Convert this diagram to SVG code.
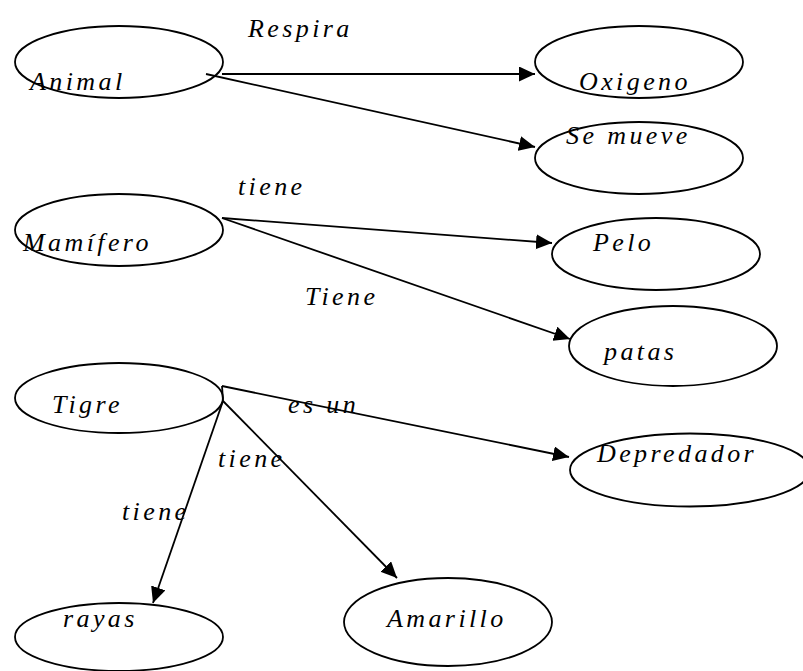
<svg xmlns="http://www.w3.org/2000/svg" width="803" height="671" viewBox="0 0 803 671">
<defs>
<marker id="arr" markerUnits="userSpaceOnUse" markerWidth="17" markerHeight="16" refX="16" refY="7.5" orient="auto">
<path d="M0,0 L16,7.5 L0,15 z" fill="#000"/>
</marker>
<style>
.n ellipse{fill:none;stroke:#000;stroke-width:1.8}
text{font-family:"Liberation Serif","DejaVu Serif",serif;font-style:italic;font-size:26px;letter-spacing:3.4px;fill:#000}
.e line,.e path{stroke:#000;stroke-width:1.8;fill:none}
.e line{marker-end:url(#arr)}
</style>
</defs>
<rect width="803" height="671" fill="#fff"/>
<g class="e" id="connectors">
<line x1="222" y1="74" x2="535" y2="74"/>
<line x1="206" y1="74" x2="535" y2="147"/>
<line x1="222" y1="218" x2="552" y2="243"/>
<line x1="222" y1="218" x2="570" y2="339"/>
<line x1="222" y1="386" x2="569" y2="457"/>
<path d="M222,386 L223,401"/>
<line x1="223" y1="401" x2="397" y2="578"/>
<line x1="223" y1="401" x2="153" y2="603"/>
<text x="248" y="37">Respira</text>
<text x="238" y="195">tiene</text>
<text x="305" y="305">Tiene</text>
<text x="288" y="413">es un</text>
<text x="218" y="467">tiene</text>
<text x="122" y="520">tiene</text>
</g>
<g class="n" id="animal"><ellipse cx="119" cy="62" rx="104" ry="36"/><text x="30" y="90">Animal</text></g>
<g class="n" id="oxigeno"><ellipse cx="639" cy="62" rx="104" ry="36"/><text x="579" y="90">Oxigeno</text></g>
<g class="n" id="semueve"><ellipse cx="639" cy="158" rx="104" ry="36"/><text x="566" y="144">Se mueve</text></g>
<g class="n" id="mamifero"><ellipse cx="119" cy="230" rx="104" ry="36"/><text x="23" y="251">Mamífero</text></g>
<g class="n" id="pelo"><ellipse cx="656" cy="254" rx="104" ry="36"/><text x="593" y="251">Pelo</text></g>
<g class="n" id="patas"><ellipse cx="673" cy="346" rx="104" ry="40"/><text x="604" y="360">patas</text></g>
<g class="n" id="tigre"><ellipse cx="119" cy="398" rx="104" ry="35"/><text x="52" y="413">Tigre</text></g>
<g class="n" id="depredador"><ellipse cx="690" cy="470" rx="120" ry="36.5"/><text x="597" y="462">Depredador</text></g>
<g class="n" id="rayas"><ellipse cx="119" cy="637" rx="104" ry="34"/><text x="63" y="627">rayas</text></g>
<g class="n" id="amarillo"><ellipse cx="448" cy="622" rx="104" ry="44"/><text x="387" y="627">Amarillo</text></g>
</svg>
